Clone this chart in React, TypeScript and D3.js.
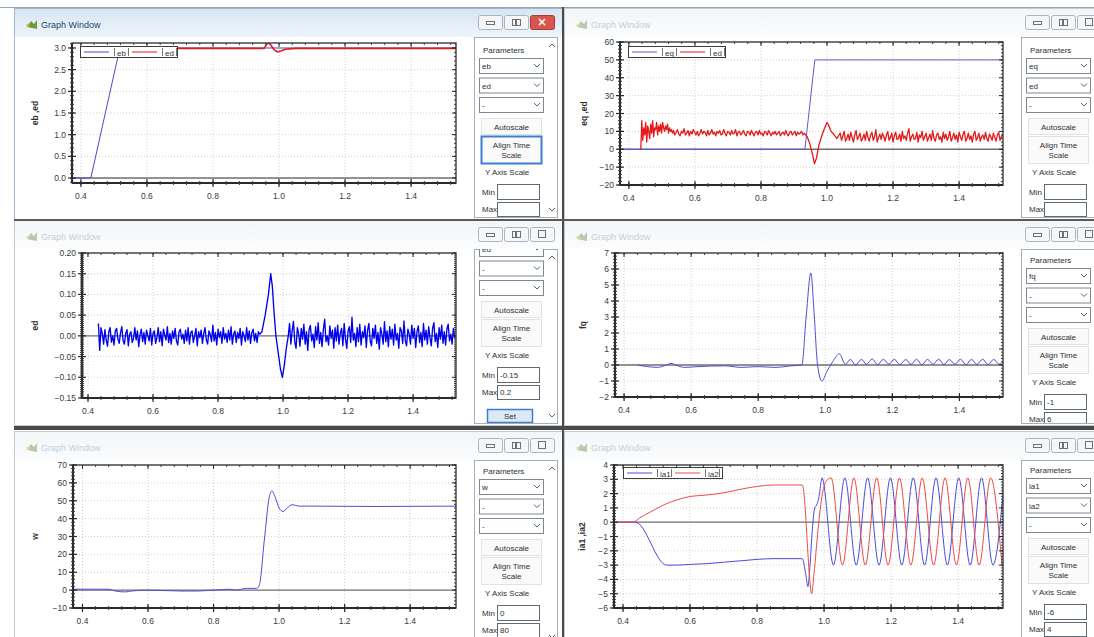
import React from 'react';
import * as d3 from 'd3';

type Pt = [number, number];

const FONT = '"Liberation Sans", Arial, sans-serif';

// shared time axis
const timeTicks = [0.4, 0.6, 0.8, 1.0, 1.2, 1.4];

// turn a hand read list of samples into [t, v] pairs (sampled signal, fixed step)
const sampled = (t0: number, dt: number, vals: number[]): Pt[] =>
  vals.map((v, i) => [+(t0 + i * dt).toFixed(4), v]);

// ---------- window 1 : eb / ed ----------
const w1YTicks = [0, 0.5, 1.0, 1.5, 2.0, 2.5, 3.0];
const w1Eb: Pt[] = [[0.373, 0], [0.43, 0], [0.518, 3.0], [1.536, 3.0]];
const w1Ed: Pt[] = [
  [0.52, 2.99], [0.7, 2.99], [0.9, 2.99], [0.955, 2.99], [0.962, 3.08], [0.968, 3.12],
  [0.976, 3.06], [0.985, 2.96], [0.995, 2.91], [1.005, 2.93], [1.02, 2.97], [1.05, 2.99],
  [1.536, 2.99],
];

// ---------- window 2 : eq / ed ----------
const w2YTicks = [-20, -10, 0, 10, 20, 30, 40, 50, 60];
const w2Eq: Pt[] = [[0.373, 0], [0.933, 0], [0.963, 50], [1.533, 50]];
const w2EdStart = [
  0, 16, 5, 12, 8, 15, 4, 13, 10, 6, 14, 9, 16, 7, 12, 11, 15, 8, 13, 10,
  14, 9, 15, 12, 10, 13, 11, 14, 9, 12, 10, 11, 9,
];
const w2EdMid = [
  10.5, 8, 9.5, 11, 8.5, 7.5, 10, 9, 11.5, 8, 9, 10.5, 7.5, 10, 8.5, 11, 9.5, 8, 10, 7.5,
  9, 11, 8.5, 10, 9.5, 7.5, 10.5, 8, 9, 11, 8.5, 9.5, 7.5, 10, 9, 10.5, 8, 8.5, 11, 9,
  7.5, 10, 9.5, 8, 10.5, 8.5, 9, 11, 7.5, 9.5, 10, 8, 9, 10.5, 8.5, 7.5, 10, 9.5, 8, 10.5,
  9, 7.5, 9.5, 10, 8, 10.5, 8.5, 9, 7.5, 10, 9.5, 8, 10.5, 9, 7.5, 9.5, 8.5, 10, 8, 9,
  10, 7.5, 9, 9.5, 8, 10.5, 8.5, 7.5, 9.5, 10, 8, 9, 10, 7.5, 9.5, 8.5, 9, 10, 8, 9,
];
const w2EdStep: Pt[] = [
  [0.94, 7], [0.948, 3], [0.955, -2], [0.962, -8], [0.968, -5], [0.975, 2], [0.985, 8],
  [0.993, 12], [1.0, 15], [1.006, 13], [1.012, 10], [1.02, 8.5], [1.03, 6],
];
const w2EdEnd = [
  9, 5, 7.5, 10, 4.5, 6, 8.5, 5, 9.5, 6.5, 4, 8, 10.5, 5.5, 7, 9, 4.5, 6, 8.5, 5,
  10, 6.5, 4.5, 8, 9.5, 5, 7, 11, 4, 6.5, 8.5, 5.5, 9, 7, 4.5, 8, 10, 5, 6.5, 9,
  4, 7.5, 9.5, 5.5, 6, 8.5, 4.5, 10, 6, 7.5, 5, 9, 11.5, 4.5, 7, 8.5, 5.5, 6, 9.5, 4,
  8, 6.5, 10, 5, 7, 9, 4.5, 6.5, 8.5, 5, 10.5, 6, 4.5, 8, 9, 5.5, 7, 4, 9.5, 6,
  8.5, 5, 7, 10, 4.5, 6.5, 9, 5.5, 8, 4, 9.5, 7, 5, 8.5, 10, 4.5, 6, 9, 5.5, 7.5,
  4, 8.5, 10, 5, 6.5, 9, 4.5, 7, 8, 5.5, 9.5, 6, 4.5, 8.5, 7, 5, 9, 6.5, 4.5, 8,
  9.5, 5, 7, 8,
];
const w2Ed: Pt[] = [
  [0.435, 0],
  ...sampled(0.436, 0.003, w2EdStart),
  ...sampled(0.535, 0.004, w2EdMid),
  ...w2EdStep,
  ...sampled(1.04, 0.004, w2EdEnd),
];

// ---------- window 3 : ed ----------
const w3YTicks = [-0.15, -0.1, -0.05, 0, 0.05, 0.1, 0.15, 0.2];
const w3NoiseA = [
  0.03, -0.035, 0.02, 0.005, -0.02, 0.015, -0.01, -0.025, 0.01, 0.02, -0.015, 0.0, -0.022, 0.012, 0.018, -0.008, -0.018, 0.008, 0.022, -0.012,
  -0.02, 0.006, 0.015, -0.024, 0.004, 0.01, -0.016, -0.006, 0.02, -0.01, 0.012, -0.026, 0.002, 0.016, -0.014, 0.008, -0.02, 0.014, 0.0, -0.012,
  0.018, -0.022, 0.006, 0.012, -0.018, -0.004, 0.02, -0.014, 0.01, -0.024, 0.016, 0.002, -0.01, 0.022, -0.016, 0.006, -0.02, 0.012, -0.006, 0.018,
  -0.012, -0.022, 0.01, 0.016, -0.008, 0.004, -0.018, 0.014, -0.012, 0.02, -0.02, 0.008, 0.012, -0.016, 0.0, 0.018, -0.024, 0.01, -0.004, 0.014,
  -0.018, 0.006, 0.02, -0.01, -0.02, 0.012, 0.004, -0.014, 0.026, -0.012, 0.008, -0.022, 0.016, -0.004, 0.01, -0.018, 0.02, -0.008, 0.006, -0.016,
  0.014, -0.01, 0.022, -0.02, 0.004, 0.012, -0.016, 0.008, -0.006, 0.018, -0.022, 0.01, 0.0, -0.014, 0.02, -0.01, 0.012, -0.018, 0.008, 0.016,
  -0.012, 0.006, -0.016, 0.01, 0.004,
];
const w3Spike: Pt[] = [
  [0.935, 0.01], [0.945, 0.05], [0.955, 0.1], [0.962, 0.15], [0.967, 0.12], [0.972, 0.06],
  [0.978, 0.0], [0.985, -0.04], [0.992, -0.08], [0.998, -0.1], [1.004, -0.07],
  [1.01, -0.03], [1.016, 0.0],
];
const w3NoiseC = [
  0.03, -0.02, 0.012, 0.035, -0.015, -0.03, 0.02, 0.005, -0.025, 0.018, -0.008, 0.028, -0.02, 0.01, -0.035, 0.015, 0.025, -0.012, 0.004, -0.028,
  0.022, -0.01, 0.032, -0.018, 0.008, -0.026, 0.016, 0.04, -0.014, 0.0, -0.022, 0.024, -0.006, 0.014, -0.03, 0.02, -0.012, 0.026, -0.02, 0.006,
  0.018, -0.024, 0.03, -0.008, -0.03, 0.012, 0.022, -0.016, 0.045, -0.01, 0.006, -0.026, 0.02, -0.014, 0.028, -0.022, 0.01, -0.004, 0.024, -0.028,
  0.014, 0.03, -0.012, -0.024, 0.018, -0.006, 0.026, -0.018, 0.008, -0.032, 0.02, 0.004, -0.02, 0.034, -0.014, 0.012, -0.026, 0.022, -0.008, 0.016,
  -0.022, 0.028, -0.01, 0.006, -0.03, 0.02, 0.012, -0.018, 0.036, -0.012, -0.024, 0.016, 0.004, -0.02, 0.026, -0.006, 0.018, -0.028, 0.01, 0.024,
  -0.016, 0.008, -0.026, 0.03, -0.01, 0.014, -0.02, 0.022, -0.004, -0.024, 0.018, 0.032, -0.014, 0.006, -0.028, 0.02, -0.008, 0.026, -0.018, 0.01,
  -0.022, 0.016, 0.028, -0.012, 0.004, -0.02, 0.018, -0.006,
];
const w3Ed: Pt[] = [
  ...sampled(0.432, 0.004, w3NoiseA),
  ...w3Spike,
  ...sampled(1.02, 0.004, w3NoiseC),
];

// ---------- window 4 : fq ----------
const w4YTicks = [-2, -1, 0, 1, 2, 3, 4, 5, 6, 7];
const w4Fq: Pt[] = [
  [0.44, 0], [0.47, -0.1], [0.5, -0.15], [0.52, -0.05], [0.54, 0.1], [0.56, -0.05],
  [0.58, -0.15], [0.62, -0.1], [0.7, -0.05], [0.75, -0.15], [0.8, -0.1], [0.85, -0.15],
  [0.9, -0.05], [0.93, 0], [0.943, 3.0], [0.957, 5.75], [0.966, 3.5], [0.977, 0],
  [0.99, -1.0], [1.005, -0.4], [1.022, 0.2], [1.042, 0.7], [1.06, 0.05], [1.075, 0.35],
  [1.09, 0.0], [1.108, 0.35], [1.123, 0.05], [1.14, 0.38], [1.156, 0.02], [1.173, 0.35],
  [1.19, 0.05], [1.206, 0.36], [1.222, 0.03], [1.24, 0.34], [1.256, 0.04], [1.272, 0.36],
  [1.288, 0.02], [1.305, 0.35], [1.322, 0.05], [1.338, 0.36], [1.354, 0.03], [1.37, 0.34],
  [1.387, 0.05], [1.403, 0.36], [1.42, 0.02], [1.436, 0.35], [1.452, 0.04], [1.469, 0.36],
  [1.486, 0.03], [1.502, 0.35], [1.518, 0.05], [1.534, 0.3],
];

// ---------- window 5 : w ----------
const w5YTicks = [-10, 0, 10, 20, 30, 40, 50, 60, 70];
const w5W: Pt[] = [
  [0.371, 0.5], [0.48, 0.5], [0.5, -0.5], [0.53, -1], [0.55, -0.5], [0.6, 0], [0.7, -0.5],
  [0.75, -0.5], [0.8, 0], [0.85, 0.5], [0.87, 0], [0.9, 1], [0.932, 1], [0.94, 3],
  [0.955, 28], [0.97, 52], [0.978, 55.5], [0.988, 52], [1.0, 46], [1.012, 44],
  [1.025, 46], [1.04, 47.8], [1.06, 47], [1.1, 47], [1.3, 46.8], [1.54, 47],
];

// ---------- window 6 : ia1 / ia2 ----------
const w6YTicks = [-6, -5, -4, -3, -2, -1, 0, 1, 2, 3, 4];
const w6Ia1: Pt[] = [
  [0.373, 0], [0.437, 0], [0.53, -3.0], [0.56, -3.0], [0.6, -2.95], [0.65, -2.9], [0.7, -2.8],
  [0.75, -2.7], [0.8, -2.6], [0.85, -2.55], [0.935, -2.55], [0.945, -3.6], [0.952, -4.5],
  [0.958, -3.0], [0.965, -0.5], [0.972, 1.0], [0.978, 1.2], [0.985, 1.8], [0.994, 3.1],
  [1.028, -3.0], [1.062, 3.1], [1.096, -3.0], [1.13, 3.1], [1.164, -3.0], [1.198, 3.1],
  [1.232, -3.0], [1.266, 3.1], [1.3, -3.0], [1.334, 3.1], [1.368, -3.0], [1.402, 3.1],
  [1.436, -3.0], [1.47, 3.1], [1.504, -3.0], [1.538, 3.1],
];
const w6Ia2: Pt[] = [
  [0.373, 0], [0.43, 0], [0.45, 0.3], [0.48, 0.7], [0.5, 0.95], [0.53, 1.3], [0.56, 1.55],
  [0.6, 1.8], [0.65, 1.9], [0.7, 2.05], [0.75, 2.3], [0.8, 2.5], [0.85, 2.6], [0.935, 2.6],
  [0.942, 1.5], [0.95, -1.5], [0.957, -4.0], [0.963, -5.0], [0.97, -3.6], [0.982, -0.5],
  [0.995, 2.0], [1.007, 2.9], [1.021, 3.1], [1.055, -3.0], [1.089, 3.1], [1.123, -3.0],
  [1.157, 3.1], [1.191, -3.0], [1.225, 3.1], [1.259, -3.0], [1.293, 3.1], [1.327, -3.0],
  [1.361, 3.1], [1.395, -3.0], [1.429, 3.1], [1.463, -3.0], [1.497, 3.1], [1.531, -3.0],
];

type Series = { color: string; data: Pt[]; width?: number; curve?: d3.CurveFactory };
type Panel = { x: number; py: number; dd: string[]; min: string; max: string; focus?: boolean; set?: boolean };
type Win = {
  id: string; x: number; y: number; w: number; h: number; active?: boolean;
  plot: { l: number; t: number; r: number; b: number };
  xDomain: [number, number]; yDomain: [number, number];
  yTicks: number[]; yFmt: (v: number) => string; yMinor: number;
  yLabel: string; yLabelX: number;
  series: Series[];
  legend?: { x: number; y: number; w: number };
  legendItems?: { label: string; color: string }[];
  panel: Panel;
};

const RED = '#e41a1a';

const windows: Win[] = [
  {
    id: 'w1', x: 14, y: 8, w: 549, h: 211, active: true,
    plot: { l: 72, t: 43, r: 456, b: 183 }, xDomain: [0.373, 1.536], yDomain: [-0.115, 3.115],
    yTicks: w1YTicks, yFmt: d3.format('.1f'), yMinor: 5, yLabel: 'eb ,ed', yLabelX: 38,
    series: [{ color: '#4a4ad0', data: w1Eb }, { color: RED, data: w1Ed, width: 1.6 }],
    legend: { x: 80, y: 46, w: 97 },
    legendItems: [{ label: 'eb', color: '#4a4ad0' }, { label: 'ed', color: RED }],
    panel: { x: 474, py: 50, dd: ['eb', 'ed', '-'], min: '', max: '', focus: true },
  },
  {
    id: 'w2', x: 564, y: 8, w: 540, h: 211,
    plot: { l: 620, t: 42, r: 1003, b: 185 }, xDomain: [0.373, 1.533], yDomain: [-20, 60],
    yTicks: w2YTicks, yFmt: d3.format('d'), yMinor: 5, yLabel: 'eq ,ed', yLabelX: 587,
    series: [{ color: '#5a5ae0', data: w2Eq }, { color: RED, data: w2Ed, width: 1.3 }],
    legend: { x: 628, y: 46, w: 97 },
    legendItems: [{ label: 'eq', color: '#5a5ae0' }, { label: 'ed', color: RED }],
    panel: { x: 1021, py: 50, dd: ['eq', 'ed', '-'], min: '', max: '' },
  },
  {
    id: 'w3', x: 14, y: 220, w: 549, h: 205,
    plot: { l: 82, t: 253, r: 456, b: 398 }, xDomain: [0.3815, 1.532], yDomain: [-0.15, 0.2],
    yTicks: w3YTicks, yFmt: d3.format('.2f'), yMinor: 10, yLabel: 'ed', yLabelX: 38,
    series: [{ color: '#0000f0', data: w3Ed, width: 1.35 }],
    panel: { x: 474, py: 233, dd: ['ed', '-', '-'], min: '-0.15', max: '0.2', set: true },
  },
  {
    id: 'w4', x: 564, y: 220, w: 540, h: 205,
    plot: { l: 615, t: 253, r: 1003, b: 397 }, xDomain: [0.373, 1.53], yDomain: [-2, 7],
    yTicks: w4YTicks, yFmt: d3.format('d'), yMinor: 5, yLabel: 'fq', yLabelX: 586,
    series: [{ color: '#4c4cd8', data: w4Fq, curve: d3.curveMonotoneX }],
    panel: { x: 1021, py: 260, dd: ['fq', '-', '-'], min: '-1', max: '6' },
  },
  {
    id: 'w5', x: 14, y: 431, w: 549, h: 215,
    plot: { l: 73, t: 465, r: 456, b: 608 }, xDomain: [0.371, 1.54], yDomain: [-10, 70],
    yTicks: w5YTicks, yFmt: d3.format('d'), yMinor: 5, yLabel: 'w', yLabelX: 38,
    series: [{ color: '#4c4cd8', data: w5W, curve: d3.curveMonotoneX }],
    panel: { x: 474, py: 471, dd: ['w', '-', '-'], min: '0', max: '80' },
  },
  {
    id: 'w6', x: 564, y: 431, w: 540, h: 215,
    plot: { l: 614, t: 465, r: 1003, b: 608 }, xDomain: [0.373, 1.534], yDomain: [-6, 4],
    yTicks: w6YTicks, yFmt: d3.format('d'), yMinor: 5, yLabel: 'ia1 ,ia2', yLabelX: 585,
    series: [
      { color: '#4a4ae0', data: w6Ia1, curve: d3.curveMonotoneX },
      { color: '#ee4a4a', data: w6Ia2, curve: d3.curveMonotoneX },
    ],
    legend: { x: 623, y: 467, w: 99 },
    legendItems: [{ label: 'ia1', color: '#4a4ae0' }, { label: 'ia2', color: '#ee4a4a' }],
    panel: { x: 1021, py: 470, dd: ['ia1', 'ia2', '-'], min: '-6', max: '4' },
  },
];

function Chevron({ x, y, up }: { x: number; y: number; up?: boolean }) {
  const d = up ? `M${x - 3},${y + 2}L${x},${y - 1}L${x + 3},${y + 2}` : `M${x - 3},${y - 1}L${x},${y + 2}L${x + 3},${y - 1}`;
  return <path d={d} fill="none" stroke="#606060" strokeWidth={1} />;
}

function GraphWindow({ c }: { c: Win }) {
  const { l, t, r, b } = c.plot;
  const xs = d3.scaleLinear().domain(c.xDomain).range([l, r]);
  const ys = d3.scaleLinear().domain(c.yDomain).range([b, t]);
  const xMinor = d3.range(0.4, c.xDomain[1], 0.04).map((v) => +v.toFixed(3));
  const yStep = c.yTicks[1] - c.yTicks[0];
  const yMinor = d3
    .range(c.yTicks[0] - yStep, c.yTicks[c.yTicks.length - 1] + yStep, yStep / c.yMinor)
    .filter((v) => v >= c.yDomain[0] && v <= c.yDomain[1]);
  const P = c.panel;
  const px = P.x;
  const py = P.py;
  const boxTop = c.y + 29;
  const boxH = c.h - 31;
  const titleColor = c.active ? '#24466e' : '#c7ced6';

  return (
    <g fontFamily={FONT}>
      <defs>
        <clipPath id={`clip-${c.id}`}>
          <rect x={l} y={t} width={r - l} height={b - t} />
        </clipPath>
        <clipPath id={`pc-${c.id}`}>
          <rect x={px} y={boxTop} width={83} height={boxH} />
        </clipPath>
        <linearGradient id={`tg-${c.id}`} x1="0" x2="0" y1="0" y2="1">
          <stop offset="0" stopColor={c.active ? '#d6e5f3' : '#f3f5f7'} />
          <stop offset="1" stopColor={c.active ? '#eef5fb' : '#fbfcfd'} />
        </linearGradient>
      </defs>
      {/* window frame */}
      <rect x={c.x + 0.5} y={c.y + 0.5} width={c.w} height={c.h} fill="#ffffff" stroke={c.active ? '#9fb6cc' : '#c3cbd3'} />
      <rect x={c.x + 1} y={c.y + 1} width={c.w - 1} height={28} fill={`url(#tg-${c.id})`} />
      {/* title */}
      <path d={`M${c.x + 13},${c.y + 19}l4,-6l3,3l3,-4l0,9z`} fill={c.active ? '#6f9a3c' : '#b8c8a8'} />
      <circle cx={c.x + 14} cy={c.y + 17} r={1.6} fill={c.active ? '#e0b030' : '#e8d8a8'} />
      <text x={c.x + 27} y={c.y + 20} fontSize={9} fill={titleColor}>Graph Window</text>
      {/* window buttons */}
      {[0, 1, 2].map((i) => {
        const bx = px + 4 + i * 26;
        const by = c.y + 7;
        const close = i === 2 && c.active;
        return (
          <g key={i}>
            <rect x={bx + 0.5} y={by + 0.5} width={24} height={14} rx={2} fill={close ? '#d9564e' : '#f4f6f8'} stroke={close ? '#a83c36' : '#aab4be'} />
            {i === 0 && <rect x={bx + 8.5} y={by + 6.5} width={8} height={3} fill="none" stroke="#707070" />}
            {i === 1 && (
              <g fill="none" stroke="#707070">
                <rect x={bx + 8.5} y={by + 4.5} width={3} height={6} />
                <rect x={bx + 12.5} y={by + 4.5} width={4} height={6} />
              </g>
            )}
            {i === 2 && (close
              ? <path d={`M${bx + 9},${by + 4}l6,6M${bx + 15},${by + 4}l-6,6`} stroke="#ffffff" strokeWidth={1.5} />
              : <rect x={bx + 8.5} y={by + 3.5} width={7} height={7} fill="none" stroke="#707070" />)}
          </g>
        );
      })}

      {/* grid */}
      {timeTicks.map((v) => (
        <line key={`gx${v}`} x1={xs(v)} x2={xs(v)} y1={t} y2={b} stroke="#cfcfcf" strokeDasharray="1,2" />
      ))}
      {c.yTicks.map((v) => (
        <line key={`gy${v}`} x1={l} x2={r} y1={ys(v)} y2={ys(v)} stroke={v === 0 ? '#6e6e6e' : '#d6d2c0'} strokeWidth={v === 0 ? 1.3 : 1} strokeDasharray={v === 0 ? undefined : '1,2'} />
      ))}

      {/* series */}
      <g clipPath={`url(#clip-${c.id})`}>
        {c.series.map((s, i) => {
          const gen = d3.line<Pt>().x((d) => xs(d[0])).y((d) => ys(d[1])).curve(s.curve ?? d3.curveLinear);
          return <path key={i} d={gen(s.data) ?? ''} fill="none" stroke={s.color} strokeWidth={s.width ?? 1} strokeLinejoin="round" />;
        })}
      </g>

      {/* frame and ticks */}
      <rect x={l} y={t} width={r - l} height={b - t} fill="none" stroke="#3c3c3c" strokeWidth={1.4} />
      <line x1={l} x2={r} y1={b} y2={b} stroke="#2a2a2a" strokeWidth={2} />
      <line x1={l} x2={l} y1={t} y2={b} stroke="#2a2a2a" strokeWidth={2} />
      {xMinor.map((v, i) => (
        <g key={`xm${i}`} stroke="#3a3a3a">
          <line x1={xs(v)} x2={xs(v)} y1={b - 2} y2={b + 2} />
          <line x1={xs(v)} x2={xs(v)} y1={t} y2={t + 2} />
        </g>
      ))}
      {timeTicks.map((v) => (
        <g key={`xt${v}`}>
          <line x1={xs(v)} x2={xs(v)} y1={b - 4} y2={b + 4} stroke="#2a2a2a" strokeWidth={1.2} />
          <line x1={xs(v)} x2={xs(v)} y1={t} y2={t + 4} stroke="#2a2a2a" />
          <text x={xs(v)} y={b + 16} fontSize={8.5} fill="#3a3a3a" textAnchor="middle">{v.toFixed(1)}</text>
        </g>
      ))}
      {yMinor.map((v, i) => (
        <g key={`ym${i}`} stroke="#3a3a3a">
          <line x1={l - 2} x2={l + 2} y1={ys(v)} y2={ys(v)} />
          <line x1={r - 2} x2={r} y1={ys(v)} y2={ys(v)} />
        </g>
      ))}
      {c.yTicks.map((v) => (
        <g key={`yt${v}`}>
          <line x1={l - 4} x2={l + 4} y1={ys(v)} y2={ys(v)} stroke="#2a2a2a" strokeWidth={1.2} />
          <line x1={r - 4} x2={r} y1={ys(v)} y2={ys(v)} stroke="#2a2a2a" />
          <text x={l - 6} y={ys(v) + 3} fontSize={8.5} fill="#3a3a3a" textAnchor="end">{c.yFmt(v)}</text>
        </g>
      ))}
      <text
        transform={`translate(${c.yLabelX},${(t + b) / 2}) rotate(-90)`}
        fontSize={8.5} fontWeight="bold" fill="#303030" textAnchor="middle"
      >{c.yLabel}</text>

      {/* legend */}
      {c.legend && c.legendItems && (
        <g>
          <rect x={c.legend.x + 0.5} y={c.legend.y + 0.5} width={c.legend.w} height={11} fill="#ffffff" stroke="#3c3c3c" />
          {c.legendItems.map((it, i) => {
            const lx = c.legend!.x + 4 + i * 48;
            return (
              <g key={it.label}>
                <line x1={lx} x2={lx + 25} y1={c.legend!.y + 6} y2={c.legend!.y + 6} stroke={it.color} />
                <text x={lx + 33} y={c.legend!.y + 9.5} fontSize={8} fill="#333">{it.label}</text>
                <line x1={lx + 30.5} x2={lx + 30.5} y1={c.legend!.y + 2} y2={c.legend!.y + 10} stroke="#777" />
                <line x1={lx + 44.5} x2={lx + 44.5} y1={c.legend!.y + 2} y2={c.legend!.y + 10} stroke="#777" />
              </g>
            );
          })}
        </g>
      )}

      {/* control panel */}
      <rect x={px + 0.5} y={boxTop + 0.5} width={83} height={boxH} fill="#ffffff" stroke="#a6aeb6" />
      <g clipPath={`url(#pc-${c.id})`} fontSize={8} fill="#303030">
        <text x={px + 9} y={py + 3}>Parameters</text>
        {P.dd.map((d, i) => {
          const y0 = py + 8 + i * 19.5;
          return (
            <g key={i}>
              <rect x={px + 5.5} y={y0 + 0.5} width={64} height={15} fill="#ffffff" stroke="#7d8894" />
              <text x={px + 8} y={y0 + 11}>{d}</text>
              <Chevron x={px + 63} y={y0 + 7} />
            </g>
          );
        })}
        <rect x={px + 7.5} y={py + 68.5} width={60} height={16} fill="#fafafa" stroke="#c4cad0" strokeDasharray="1,1" />
        <text x={px + 37.5} y={py + 79.5} textAnchor="middle">Autoscale</text>
        <rect x={px + 7.5} y={py + 86.5} width={60} height={27} fill="#fafafa"
          stroke={P.focus ? '#3c7fd0' : '#c4cad0'} strokeWidth={P.focus ? 2 : 1} strokeDasharray={P.focus ? undefined : '1,1'} />
        <text x={px + 37.5} y={py + 97.5} textAnchor="middle">Align Time</text>
        <text x={px + 37.5} y={py + 107.5} textAnchor="middle">Scale</text>
        <text x={px + 11} y={py + 125}>Y Axis Scale</text>
        <text x={px + 8} y={py + 145}>Min</text>
        <rect x={px + 23.5} y={py + 134.5} width={42} height={15} fill="#ffffff" stroke="#5f6a75" />
        <text x={px + 26} y={py + 145}>{P.min}</text>
        <text x={px + 8} y={py + 161.5}>Max</text>
        <rect x={px + 23.5} y={py + 152.5} width={42} height={14} fill="#ffffff" stroke="#5f6a75" />
        <text x={px + 26} y={py + 161.5}>{P.max}</text>
        {P.set && (
          <g>
            <rect x={px + 13.5} y={py + 176.5} width={45} height={13} fill="#dce9f7" stroke="#3c7fd0" strokeWidth={1.5} />
            <text x={px + 36} y={py + 186} textAnchor="middle">Set</text>
          </g>
        )}
        <Chevron x={px + 78} y={boxTop + 8} up />
        <Chevron x={px + 78} y={boxTop + boxH - 8} />
      </g>
    </g>
  );
}

export default function App() {
  return (
    <svg
      width={1094}
      height={637}
      style={{ position: 'absolute', left: 0, top: 0, background: '#ffffff' }}
    >
      <rect x={0} y={0} width={1094} height={637} fill="#ffffff" />
      {windows.map((c) => (
        <GraphWindow key={c.id} c={c} />
      ))}
      {/* MDI separators */}
      <line x1={0} x2={1094} y1={7.5} y2={7.5} stroke="#9aa4ae" />
      <line x1={563} x2={563} y1={7} y2={637} stroke="#4a4a4a" strokeWidth={2} />
      <line x1={14} x2={1094} y1={220} y2={220} stroke="#5a5a5a" strokeWidth={2} />
      <line x1={14} x2={1094} y1={428} y2={428} stroke="#4a4a4a" strokeWidth={4} />
    </svg>
  );
}
